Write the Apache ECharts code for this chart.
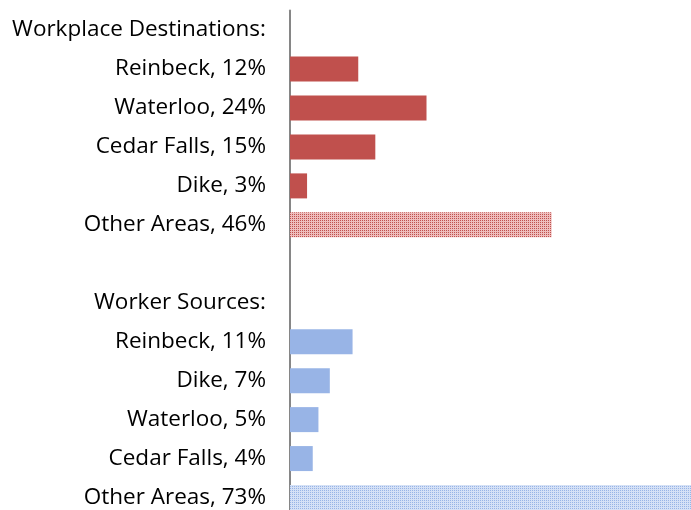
<!DOCTYPE html>
<html>
<head>
<meta charset="utf-8">
<script src="https://cdn.jsdelivr.net/npm/echarts@6/dist/echarts.min.js"></script>
<style>
html,body{margin:0;padding:0;background:#fff;overflow:hidden;}
#main{width:691px;height:530px;}
</style>
</head>
<body>
<div id="main"></div>
<script>
// rows top to bottom, blank row between the two groups
var categories = ['Workplace Destinations:', 'Reinbeck, 12%', 'Waterloo, 24%', 'Cedar Falls, 15%', 'Dike, 3%', 'Other Areas, 46%', '',
    'Worker Sources:', 'Reinbeck, 11%', 'Dike, 7%', 'Waterloo, 5%', 'Cedar Falls, 4%', 'Other Areas, 73%'];
var destValues = [null, 12, 24, 15, 3, 46, null, null, null, null, null, null, null];
var sourceValues = [null, null, null, null, null, null, null, null, 11, 7, 5, 4, 73];
var otherRows = [5, 12];

function makePattern(color, light){
    var c = document.createElement('canvas');
    c.width = 4; c.height = 4;
    var ctx = c.getContext('2d');
    ctx.fillStyle = light;
    ctx.fillRect(0, 0, 4, 4);
    ctx.fillStyle = color;
    ctx.fillRect(0, 0, 1, 1);
    ctx.fillRect(2, 0, 1, 1);
    ctx.fillRect(0, 2, 1, 1);
    ctx.fillRect(2, 2, 1, 1);
    return c;
}

var red = '#C0504D', blue = '#98B4E6';
var redPat = {image: makePattern(red, '#eebdbc'), repeat: 'repeat'};
var bluePat = {image: makePattern(blue, '#d5e1f6'), repeat: 'repeat'};

function toData(vals, col, pat){
    var out = [];
    for (var i = 0; i < vals.length; i++) {
        if (vals[i] == null) { out.push('-'); continue; }
        out.push({value: vals[i], itemStyle: {color: otherRows.indexOf(i) >= 0 ? pat : col}});
    }
    return out;
}

var myChart = echarts.init(document.getElementById('main'));
var option = {
    animation: false,
    grid: {left: 290, top: 10.6, width: 401, height: 506.4, containLabel: false},
    xAxis: {
        type: 'value', min: 0, max: 70.5, show: false
    },
    yAxis: {
        type: 'category', inverse: true, data: categories,
        axisLine: {show: true, lineStyle: {color: '#868686', width: 2}},
        axisTick: {show: false},
        axisLabel: {color: '#000', fontFamily: 'Open Sans', fontSize: 22.5, margin: 24}
    },
    series: [
        {type: 'bar', data: toData(destValues, red, redPat), stack: 'a', barWidth: 25},
        {type: 'bar', data: toData(sourceValues, blue, bluePat), stack: 'a', barWidth: 25}
    ]
};
myChart.setOption(option);
</script>
</body>
</html>
